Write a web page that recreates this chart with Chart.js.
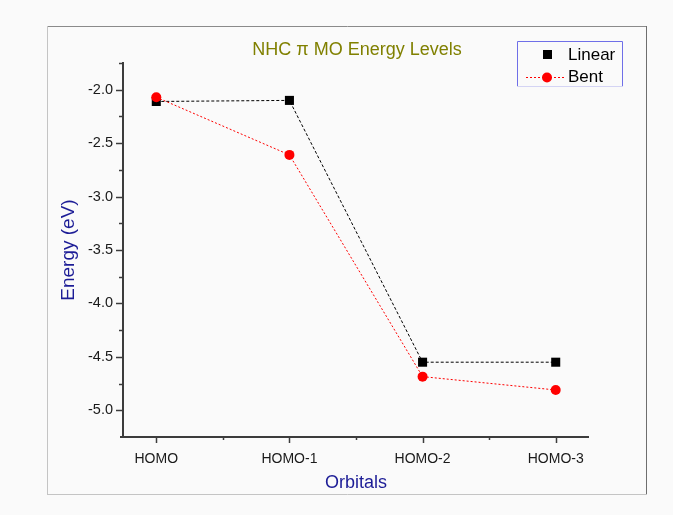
<!DOCTYPE html>
<html>
<head>
<meta charset="utf-8">
<script src="https://cdn.jsdelivr.net/npm/chart.js@4.4.1/dist/chart.umd.min.js"></script>
<style>
  html, body { margin: 0; padding: 0; background: #fafafa; }
  canvas { display: block; }
</style>
</head>
<body>
<canvas id="c" width="673" height="515"></canvas>
<script>
const categories = ['HOMO', 'HOMO-1', 'HOMO-2', 'HOMO-3'];
const linearValues = [-2.11, -2.10, -4.55, -4.55];
const bentValues = [-2.07, -2.61, -4.685, -4.81];
const seriesNames = ['Linear', 'Bent'];
const titleText = 'NHC \u03C0 MO Energy Levels';
const xTitle = 'Orbitals';
const yTitle = 'Energy (eV)';
const yMin = -5.25, yMax = -1.75, yStep = 0.25;
const xMin = -0.25, xMax = 3.25;

const FONT = 'Arial, "Liberation Sans", sans-serif';

const decorPlugin = {
  id: 'decor',
  beforeDraw(chart) {
    const ctx = chart.ctx;
    ctx.save();
    ctx.fillStyle = '#fafafa';
    ctx.fillRect(0, 0, chart.width, chart.height);
    ctx.restore();
  },
  afterDraw(chart) {
    const ctx = chart.ctx;
    const xs = chart.scales.x, ys = chart.scales.y;
    const ca = chart.chartArea;
    ctx.save();
    // outer frame
    ctx.lineWidth = 1;
    ctx.strokeStyle = '#8a8a8a';
    ctx.beginPath(); ctx.moveTo(48, 26.5); ctx.lineTo(647, 26.5); ctx.stroke();
    ctx.strokeStyle = '#6e6e6e';
    ctx.beginPath(); ctx.moveTo(646.5, 26); ctx.lineTo(646.5, 495); ctx.stroke();
    ctx.strokeStyle = '#c4c4c4';
    ctx.beginPath(); ctx.moveTo(47.5, 26); ctx.lineTo(47.5, 495); ctx.stroke();
    ctx.beginPath(); ctx.moveTo(48, 494.5); ctx.lineTo(647, 494.5); ctx.stroke();

    // axes lines
    ctx.strokeStyle = '#3c3c3c';
    ctx.lineWidth = 2;
    const ax = Math.round(ca.left);
    const ay = Math.round(ca.bottom);
    ctx.beginPath(); ctx.moveTo(ax, ca.top - 1); ctx.lineTo(ax, ay + 1); ctx.stroke();
    ctx.beginPath(); ctx.moveTo(ax - 3, ay); ctx.lineTo(ca.right, ay); ctx.stroke();

    // y ticks
    ctx.lineWidth = 1.5;
    for (let v = yMin; v <= yMax + 1e-9; v += yStep) {
      const py = Math.round(ys.getPixelForValue(v)) + 0.5;
      const major = Math.abs(v * 2 - Math.round(v * 2)) < 1e-6;
      const len = major ? 7 : 4;
      if (Math.abs(v - yMin) < 1e-9) continue;
      ctx.beginPath(); ctx.moveTo(ax - len, py); ctx.lineTo(ax, py); ctx.stroke();
    }
    // x ticks
    for (let v = 0; v <= 3 + 1e-9; v += 0.5) {
      const px = Math.round(xs.getPixelForValue(v)) + 0.5;
      const major = Math.abs(v - Math.round(v)) < 1e-6;
      const len = major ? 6 : 3;
      ctx.beginPath(); ctx.moveTo(px, ay); ctx.lineTo(px, ay + len); ctx.stroke();
    }

    // title
    ctx.fillStyle = '#808000';
    ctx.font = '18px ' + FONT;
    ctx.textAlign = 'center';
    ctx.textBaseline = 'middle';
    ctx.fillText(titleText, 357, 50);

    // legend
    const lx0 = 517, ly0 = 41, lx1 = 622, ly1 = 86;
    ctx.lineWidth = 1;
    ctx.strokeStyle = '#6f6fe8';
    ctx.beginPath();
    ctx.moveTo(lx0 + 0.5, ly1); ctx.lineTo(lx0 + 0.5, ly0 + 0.5); ctx.lineTo(lx1 + 0.5, ly0 + 0.5); ctx.lineTo(lx1 + 0.5, ly1);
    ctx.stroke();
    ctx.strokeStyle = '#d4d4f4';
    ctx.beginPath(); ctx.moveTo(lx0, ly1 + 0.5); ctx.lineTo(lx1 + 1, ly1 + 0.5); ctx.stroke();

    // Linear entry
    ctx.fillStyle = '#000';
    ctx.fillRect(543, 50, 9, 9);
    ctx.font = '17px ' + FONT;
    ctx.textAlign = 'left';
    ctx.fillStyle = '#000';
    ctx.fillText(seriesNames[0], 568, 55);
    // Bent entry
    ctx.strokeStyle = '#ff0000';
    ctx.setLineDash([2, 2]);
    ctx.beginPath(); ctx.moveTo(526, 77.5); ctx.lineTo(564, 77.5); ctx.stroke();
    ctx.setLineDash([]);
    ctx.fillStyle = '#ff0000';
    ctx.beginPath(); ctx.arc(547, 77.5, 5, 0, Math.PI * 2); ctx.fill();
    ctx.fillStyle = '#000';
    ctx.fillText(seriesNames[1], 568, 77);
    ctx.restore();
  }
};

const toPts = arr => arr.map((v, i) => ({ x: i, y: v }));

new Chart(document.getElementById('c'), {
  type: 'line',
  data: {
    datasets: [
      {
        label: seriesNames[0],
        data: toPts(linearValues),
        borderColor: '#000000',
        backgroundColor: '#000000',
        borderWidth: 1,
        borderDash: [3, 2],
        pointStyle: 'rect',
        pointRadius: 6.4,
        pointBorderWidth: 0,
        order: 1,
        tension: 0
      },
      {
        label: seriesNames[1],
        data: toPts(bentValues),
        borderColor: '#ff0000',
        backgroundColor: '#ff0000',
        borderWidth: 1,
        borderDash: [2, 2],
        pointStyle: 'circle',
        pointRadius: 5,
        pointBorderWidth: 0,
        order: 0,
        tension: 0
      }
    ]
  },
  options: {
    responsive: false,
    animation: false,
    devicePixelRatio: 1,
    layout: { padding: { top: 63, right: 84, left: 0, bottom: 0 } },
    plugins: {
      legend: { display: false },
      tooltip: { enabled: false },
      title: { display: false }
    },
    scales: {
      x: {
        type: 'linear',
        min: xMin,
        max: xMax,
        afterFit(s) { s.height = 78; },
        afterBuildTicks(s) { s.ticks = categories.map((c, i) => ({ value: i })); },
        ticks: {
          autoSkip: false,
          padding: 14,
          color: '#1a1a1a',
          font: { family: FONT, size: 14 },
          maxRotation: 0,
          callback: (v) => categories[Math.round(v)] ?? ''
        },
        grid: { display: false, drawTicks: false },
        border: { display: false },
        title: {
          display: true,
          text: xTitle,
          color: '#1c1c96',
          font: { family: FONT, size: 18 },
          padding: { top: 0, bottom: 21 }
        }
      },
      y: {
        type: 'linear',
        min: yMin,
        max: yMax,
        afterFit(s) { s.width = 123; },
        afterBuildTicks(s) {
          const t = [];
          for (let v = -5.0; v <= -2.0 + 1e-9; v += 0.5) t.push({ value: v });
          s.ticks = t;
        },
        ticks: {
          padding: 10,
          color: '#1a1a1a',
          font: { family: FONT, size: 14.5 },
          callback: (v) => Number(v).toFixed(1)
        },
        grid: { display: false, drawTicks: false },
        border: { display: false },
        title: {
          display: true,
          text: yTitle,
          color: '#1c1c96',
          font: { family: FONT, size: 19 },
          padding: { top: 57, bottom: 0 }
        }
      }
    }
  },
  plugins: [decorPlugin]
});
</script>
</body>
</html>
